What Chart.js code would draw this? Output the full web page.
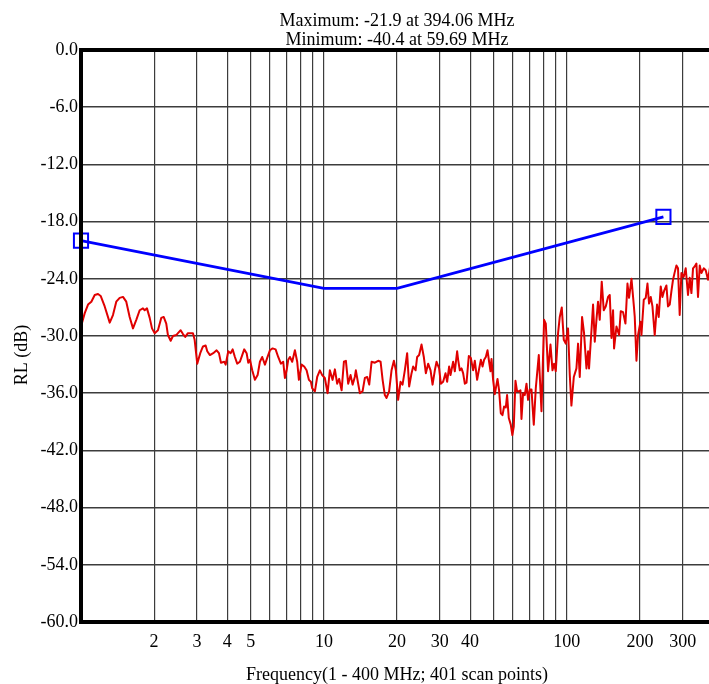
<!DOCTYPE html>
<html><head><meta charset="utf-8">
<script src="https://cdn.jsdelivr.net/npm/chart.js@4.4.0/dist/chart.umd.min.js"></script>
<style>html,body{margin:0;padding:0;overflow:hidden;background:#fff;}#wrap{width:730px;height:684px;}</style>
</head><body><div id="wrap"><canvas id="c" width="730" height="684"></canvas></div>
<script>
const titleLines = ['Maximum: -21.9 at 394.06 MHz', 'Minimum: -40.4 at 59.69 MHz'];
const xAxisTitle = 'Frequency(1 - 400 MHz; 401 scan points)';
const yAxisTitle = 'RL (dB)';

const freqMHz = [1.0,1.036,1.069,1.103,1.139,1.175,1.205,1.252,1.313,1.354,1.397,1.443,1.489,1.536,1.586,1.637,1.689,1.744,1.799,1.829,1.869,1.918,1.960,2.011,2.074,2.140,2.190,2.244,2.280,2.340,2.391,2.467,2.507,2.572,2.629,2.686,2.756,2.828,2.890,2.937,3.010,3.097,3.178,3.260,3.310,3.395,3.503,3.617,3.698,3.769,3.889,3.941,4.039,4.130,4.210,4.302,4.397,4.511,4.611,4.699,4.807,4.881,4.961,5.070,5.200,5.336,5.453,5.573,5.718,5.844,5.995,6.150,6.327,6.485,6.653,6.800,6.911,7.023,7.131,7.247,7.406,7.598,7.765,7.891,8.095,8.297,8.488,8.675,8.842,8.951,9.183,9.385,9.627,9.840,10.09,10.36,10.58,10.86,11.10,11.34,11.56,11.83,12.09,12.32,12.59,12.88,13.13,13.41,13.54,13.84,14.07,14.43,14.75,15.08,15.37,15.72,16.22,16.73,17.12,17.45,17.82,18.11,18.56,18.99,19.42,19.79,20.22,20.68,21.08,21.54,22.02,22.44,22.96,23.31,23.85,24.21,24.67,25.24,25.79,26.29,26.87,27.49,28.02,28.63,29.10,29.82,30.30,30.97,31.68,32.17,32.78,33.22,34.05,34.60,35.37,35.71,36.28,36.87,37.43,38.04,38.66,39.51,40.27,41.16,41.83,42.75,43.45,44.28,45.00,45.68,46.42,47.18,47.89,48.53,48.99,49.74,50.55,51.86,52.65,53.51,54.37,55.21,56.10,56.79,57.71,58.81,59.69,60.51,61.49,62.43,63.44,64.47,65.09,66.09,67.16,68.26,69.30,70.42,71.56,73.14,74.54,76.70,78.68,80.65,81.96,83.76,85.69,87.34,88.66,90.10,92.09,93.58,95.37,97.20,99.06,101.2,102.9,104.5,106.9,109.6,111.3,113.1,115.6,117.8,120.5,122.4,123.5,126.4,128.3,130.4,132.5,134.5,136.7,139.3,142.0,144.7,147.9,150.3,152.8,155.1,156.6,160.2,164.2,166.8,170.5,174.4,177.8,180.5,184.7,188.7,190.5,193.6,196.6,201.1,203.0,207.5,211.4,214.9,218.2,221.7,225.3,230.2,235.3,239.1,243.7,247.6,251.4,257.2,261.1,265.4,269.7,273.8,278.3,282.8,287.1,291.7,296.5,303.0,308.8,315.6,320.7,326.0,331.0,336.3,341.8,347.0,352.7,358.4,366.3,373.3,381.5,394.06,400];

const rlDb = [-29.0,-27.6,-26.7,-26.4,-25.7,-25.6,-25.8,-26.9,-28.6,-27.8,-26.4,-26.0,-25.9,-26.4,-28.0,-29.2,-28.3,-27.3,-27.1,-27.3,-27.1,-28.1,-29.2,-29.7,-29.4,-28.1,-28.0,-28.7,-29.9,-30.5,-30.0,-29.9,-29.7,-29.4,-29.8,-30.1,-29.7,-29.7,-29.7,-30.4,-32.9,-31.8,-31.1,-31.0,-31.6,-32.0,-31.8,-31.5,-31.8,-32.8,-32.7,-33.0,-31.6,-31.8,-31.4,-32.2,-32.9,-32.7,-32.0,-31.4,-31.8,-32.8,-32.5,-33.6,-34.6,-34.1,-32.7,-32.2,-33.0,-32.3,-31.5,-31.3,-31.4,-32.2,-32.9,-32.7,-34.4,-33.6,-32.5,-32.2,-32.7,-31.5,-32.7,-34.6,-33.0,-33.2,-33.6,-34.6,-34.8,-35.5,-35.8,-34.3,-33.6,-34.1,-34.4,-36.0,-33.6,-34.6,-33.5,-35.0,-34.5,-35.7,-32.7,-32.6,-35.0,-34.1,-35.1,-34.3,-33.6,-35.0,-36.0,-35.8,-34.4,-34.3,-35.1,-32.7,-32.8,-32.6,-32.7,-34.6,-36.2,-36.5,-35.8,-33.6,-32.6,-33.6,-36.7,-34.8,-35.1,-33.6,-31.8,-35.3,-33.9,-33.2,-33.6,-32.2,-32.0,-30.9,-32.2,-33.9,-32.9,-33.6,-35.1,-33.6,-32.7,-33.4,-35.0,-34.8,-33.9,-34.8,-33.2,-34.1,-32.7,-33.7,-31.6,-32.5,-33.6,-33.4,-33.9,-35.0,-34.9,-32.1,-32.3,-33.6,-32.6,-34.6,-33.6,-32.5,-33.2,-32.5,-32.2,-31.5,-32.7,-33.7,-32.4,-34.6,-36.1,-34.5,-35.7,-38.1,-38.3,-37.4,-37.5,-36.2,-38.6,-39.3,-40.4,-39.5,-34.7,-35.8,-35.8,-35.7,-38.7,-36.0,-36.2,-35.0,-36.7,-35.6,-35.6,-39.3,-35.5,-32.0,-37.9,-28.3,-28.7,-33.7,-30.9,-33.6,-32.9,-33.7,-29.7,-28.0,-27.0,-30.4,-30.8,-29.2,-34.1,-37.3,-34.3,-33.4,-30.8,-34.3,-28.0,-29.7,-33.4,-31.6,-33.4,-29.4,-26.7,-30.6,-28.3,-26.4,-28.3,-24.3,-27.3,-26.9,-25.9,-25.7,-30.2,-27.3,-31.3,-29.0,-29.9,-27.4,-27.5,-28.7,-24.5,-26.0,-24.0,-26.7,-28.0,-32.6,-29.9,-28.5,-29.9,-26.2,-26.0,-24.5,-26.6,-25.9,-26.9,-29.9,-26.7,-28.0,-24.8,-25.9,-25.3,-24.7,-26.9,-26.7,-25.3,-24.1,-23.3,-22.6,-22.9,-27.8,-23.4,-23.8,-22.9,-25.7,-23.9,-25.5,-22.9,-22.7,-22.4,-25.9,-22.6,-23.4,-22.9,-23.1,-24.1,-21.9,-23.0];

const limitFreq = [1, 10, 20, 250];
const limitDb = [-20, -25, -25, -17.5];

const xGridTicks = [1,2,3,4,5,6,7,8,9,10,20,30,40,50,60,70,80,90,100,200,300,400];
const xTickLabels = [2,3,4,5,10,20,30,40,100,200,300];
const yTicks = [0,-6,-12,-18,-24,-30,-36,-42,-48,-54,-60];

const FONT = 'Liberation Serif, Times New Roman, serif';

const framePlugin = {
  id: 'frame',
  afterDraw(chart) {
    const {ctx, chartArea: a} = chart;
    ctx.save();
    ctx.strokeStyle = '#000';
    ctx.lineWidth = 4;
    ctx.beginPath();
    ctx.moveTo(a.left, a.top); ctx.lineTo(a.right + 10, a.top);
    ctx.moveTo(a.left, a.top - 2); ctx.lineTo(a.left, a.bottom + 2);
    ctx.moveTo(a.left, a.bottom); ctx.lineTo(a.right + 10, a.bottom);
    ctx.stroke();
    ctx.fillStyle = '#000';
    ctx.font = '18px ' + FONT;
    ctx.textAlign = 'center';
    ctx.textBaseline = 'middle';
    const cx = (a.left + a.right) / 2;
    ctx.fillText(titleLines[0], cx, 21);
    ctx.fillText(titleLines[1], cx, 40);
    ctx.translate(22, 355);
    ctx.rotate(-Math.PI / 2);
    ctx.fillText(yAxisTitle, 0, 0);
    ctx.restore();
  }
};

new Chart(document.getElementById('c'), {
  type: 'line',
  data: {
    datasets: [
      {
        data: limitFreq.map((f, i) => ({x: f, y: limitDb[i]})),
        borderColor: '#0000ff',
        backgroundColor: 'rgba(0,0,0,0)',
        borderWidth: 2.8,
        pointStyle: 'rect',
        pointRadius: limitFreq.map((f, i) => (i === 0 || i === limitFreq.length - 1) ? 10 : 0),
        pointBorderWidth: 2,
        pointBorderColor: '#0000ff',
        pointBackgroundColor: 'rgba(0,0,0,0)',
        tension: 0,
        clip: false
      },
      {
        data: freqMHz.map((f, i) => ({x: f, y: rlDb[i]})),
        borderColor: '#e00000',
        borderWidth: 2,
        borderJoinStyle: 'round',
        borderCapStyle: 'round',
        pointRadius: 0,
        tension: 0,
        fill: false,
        clip: false
      }
    ]
  },
  options: {
    responsive: false,
    animation: false,
    devicePixelRatio: 1,
    layout: {padding: {top: 50, left: 0, right: 17, bottom: 0}},
    plugins: {legend: {display: false}, title: {display: false}, tooltip: {enabled: false}},
    scales: {
      x: {
        type: 'logarithmic',
        min: 1, max: 400,
        afterBuildTicks: s => { s.ticks = xGridTicks.map(v => ({value: v})); },
        afterFit: s => { s.height = 62; },
        ticks: {
          autoSkip: false, maxRotation: 0, minRotation: 0, padding: 9, color: '#000',
          font: {family: FONT, size: 18},
          callback: v => xTickLabels.includes(v) ? String(v) : ''
        },
        grid: {color: '#3c3c3c', lineWidth: 1.2, drawTicks: false},
        border: {display: false},
        title: {display: true, text: xAxisTitle, color: '#000', font: {family: FONT, size: 18, lineHeight: 1.0}, padding: {top: 0, bottom: 0}}
      },
      y: {
        type: 'linear',
        min: -60, max: 0,
        afterBuildTicks: s => { s.ticks = yTicks.map(v => ({value: v})); },
        afterFit: s => { s.width = 81; },
        ticks: {padding: 3, color: '#000', font: {family: FONT, size: 18}, callback: v => Number(v).toFixed(1)},
        grid: {color: '#3c3c3c', lineWidth: 1.5, drawTicks: false},
        border: {display: false}
      }
    }
  },
  plugins: [framePlugin]
});
</script>
</body></html>
